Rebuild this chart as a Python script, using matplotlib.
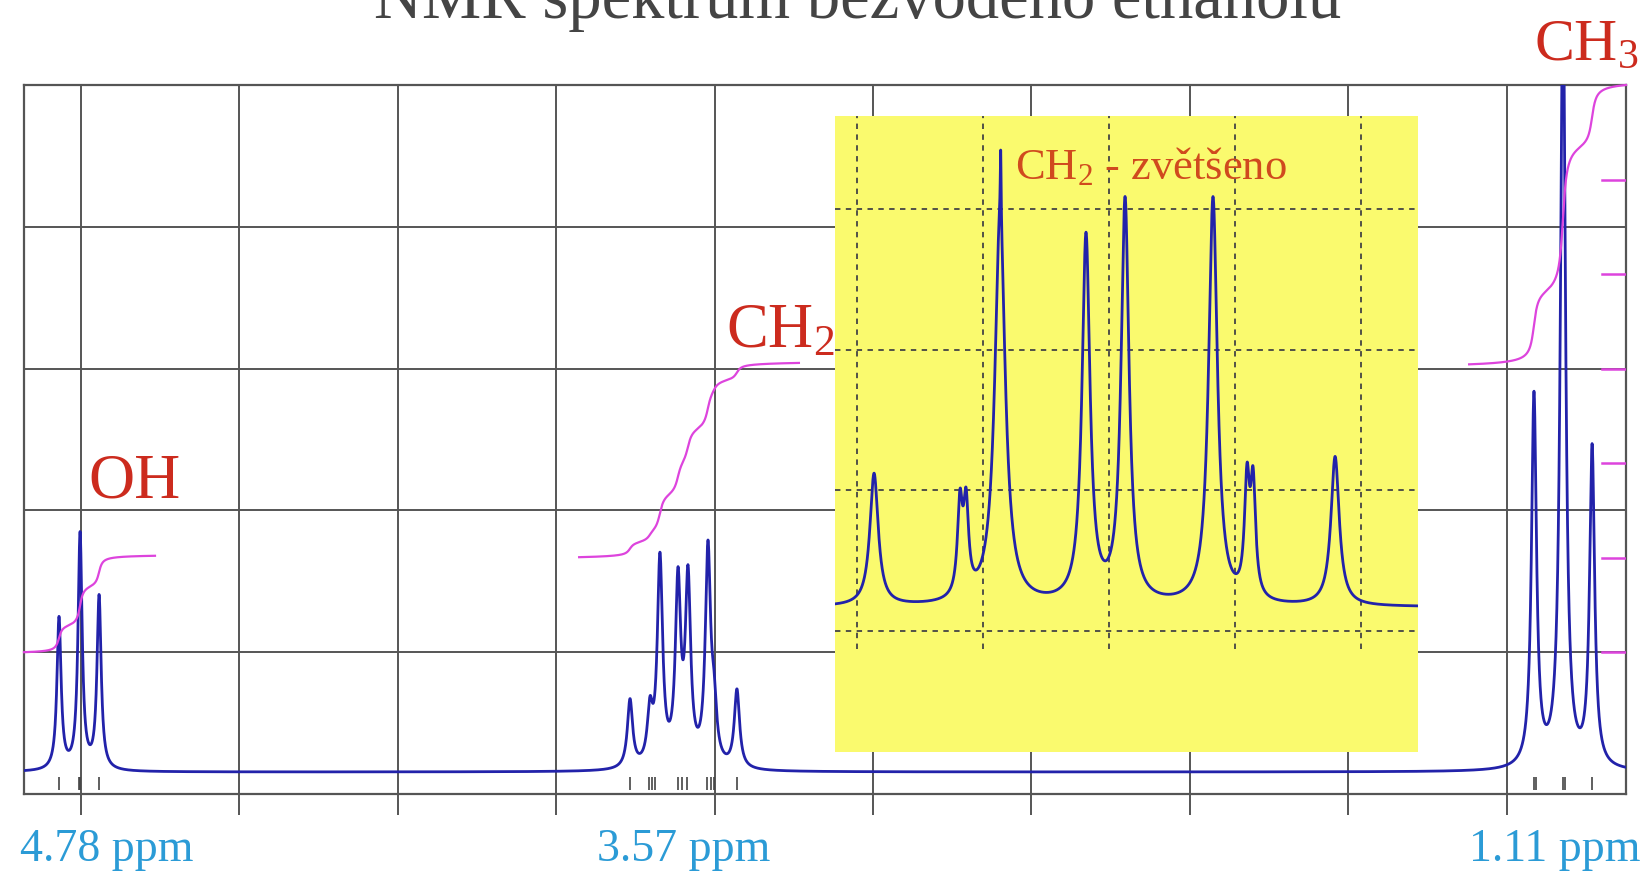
import numpy as np
import matplotlib.pyplot as plt
from matplotlib.transforms import blended_transform_factory

plt.rcParams['font.family'] = ['Liberation Serif', 'DejaVu Serif']
plt.rcParams['mathtext.default'] = 'regular'

# main spectrum, positions in grid cells (one cell = one grid square)
baseline = 0.155
oh_pos = [-0.139, -0.006, 0.114]
oh_amp = [1.07, 1.66, 1.22]
ch2_pos = [3.466, 3.592, 3.655, 3.769, 3.832, 3.958, 3.996, 4.141]
ch2_amp = [0.48, 0.36, 1.45, 1.26, 1.28, 1.50, 0.35, 0.55]
ch3_pos = [9.173, 9.356, 9.540]
ch3_amp = [2.62, 5.6, 2.25]

# peak-pick marks under the spectrum
pick_marks = [-0.139, -0.013, -0.006, 0.114,
              3.466, 3.586, 3.605, 3.624, 3.769, 3.794, 3.826, 3.952, 3.977, 3.996, 4.141,
              9.173, 9.186, 9.356, 9.369, 9.540]

# integral curves
int_start = [-0.36, 3.144, 8.763]
int_end = [0.467, 4.533, 9.754]
int_low = [1.0, 1.67, 3.03]
int_high = [1.68, 3.04, 5.0]
int_scale = [1.0, 1.667, 2.333, 3.0, 3.667, 4.333]

# zoomed CH2 multiplet (yellow inset)
zoom_baseline = 0.17
zoom_pos = [0.135, 0.817, 0.865, 1.135, 1.14, 1.817, 2.127, 2.825, 3.095, 3.143, 3.794]
zoom_amp = [0.94, 0.64, 0.62, 2.75, 0.50, 2.60, 2.86, 2.89, 0.79, 0.78, 1.06]
zoom_wid = [0.040, 0.024, 0.024, 0.050, 0.004, 0.038, 0.038, 0.042, 0.024, 0.024, 0.040]

ppm_labels = ['4.78 ppm', '3.57 ppm', '1.11 ppm']
ppm_label_x = [0.164, 3.807, 9.306]

blue = '#2222aa'
magenta = '#dd44dd'
red = '#cc2b1e'
gridc = '#555555'


def lorentz(x, pos, amp, wid):
    y = np.zeros_like(x)
    for p, a, w in zip(pos, amp, wid):
        y += a * w ** 2 / ((x - p) ** 2 + w ** 2)
    return y


fig = plt.figure(figsize=(16.5, 8.85), dpi=100)
ax = fig.add_axes([24 / 1650, 91 / 885, 1602 / 1650, 709 / 885])

x = np.linspace(-0.36, 9.754, 12000)
spec = baseline
spec = spec + lorentz(x, oh_pos, oh_amp, [0.0158] * len(oh_pos))
spec = spec + lorentz(x, ch2_pos, ch2_amp, [0.02] * len(ch2_pos))
spec = spec + lorentz(x, ch3_pos, ch3_amp, [0.019] * len(ch3_pos))

ax.plot(x, spec, color=blue, lw=2, zorder=3)

for s, e, lo, hi in zip(int_start, int_end, int_low, int_high):
    m = (x >= s) & (x <= e)
    cum = np.cumsum(spec[m] - baseline)
    ax.plot(x[m], lo + (hi - lo) * cum / cum[-1], color=magenta, lw=1.6, zorder=4, clip_on=False)

for v in int_scale:
    ax.axhline(v, xmin=0.985, xmax=1, color=magenta, lw=1.8, zorder=4)

ax.vlines(pick_marks, 0.03, 0.12, color='#444444', lw=1.2, zorder=3)

ax.set_xlim(-0.36, 9.754)
ax.set_ylim(0, 5)
ax.set_xticks(range(0, 10))
ax.set_yticks(range(1, 5))
ax.grid(True, color=gridc, lw=1.4)
ax.tick_params(axis='x', direction='out', length=15, width=1.4, color=gridc, labelbottom=False)
ax.tick_params(axis='y', length=0, labelleft=False)
for sp in ax.spines.values():
    sp.set_color(gridc)
    sp.set_linewidth(1.6)

ax.text(0.335, 2.09, 'OH', ha='center', va='baseline', fontsize=46, color=red)
ax.text(4.072, 3.15, 'CH$_2$', ha='left', va='baseline', fontsize=45, color=red)
ax.text(9.173, 5.18, 'CH$_3$', ha='left', va='baseline', fontsize=43, color=red, clip_on=False)

tr = blended_transform_factory(ax.transData, ax.transAxes)
for lab, lx in zip(ppm_labels, ppm_label_x):
    ax.text(lx, -0.079, lab, transform=tr, ha='center', va='center', fontsize=33, color='#2b9bd6')

# yellow inset with the enlarged CH2 multiplet
ins = fig.add_axes([835 / 1650, 133 / 885, 583 / 1650, 636 / 885])
ins.set_facecolor('#fafa6e')
xi = np.linspace(-0.175, 4.452, 8000)
ins.plot(xi, zoom_baseline + lorentz(xi, zoom_pos, zoom_amp, zoom_wid), color=blue, lw=2, zorder=3)
ins.set_xlim(-0.175, 4.452)
ins.set_ylim(-0.86, 3.66)
ins.vlines(range(0, 5), -0.13, 3.66, color='#444444', lw=1.3, linestyles=(0, (3, 3)), zorder=2)
ins.hlines(range(0, 4), -0.175, 4.452, color='#444444', lw=1.3, linestyles=(0, (3, 3)), zorder=2)
ins.text(1.254, 3.21, 'CH$_2$ - zvětšeno', ha='left', va='baseline', fontsize=32, color='#d04a1e', zorder=4)
ins.set_xticks([])
ins.set_yticks([])
for sp in ins.spines.values():
    sp.set_visible(False)

fig.text(0.52, 1 - 18 / 885, 'NMR spektrum bezvodého ethanolu', ha='center', va='baseline',
         fontsize=48, color='#444444')

fig.savefig('out.png', dpi=100)
